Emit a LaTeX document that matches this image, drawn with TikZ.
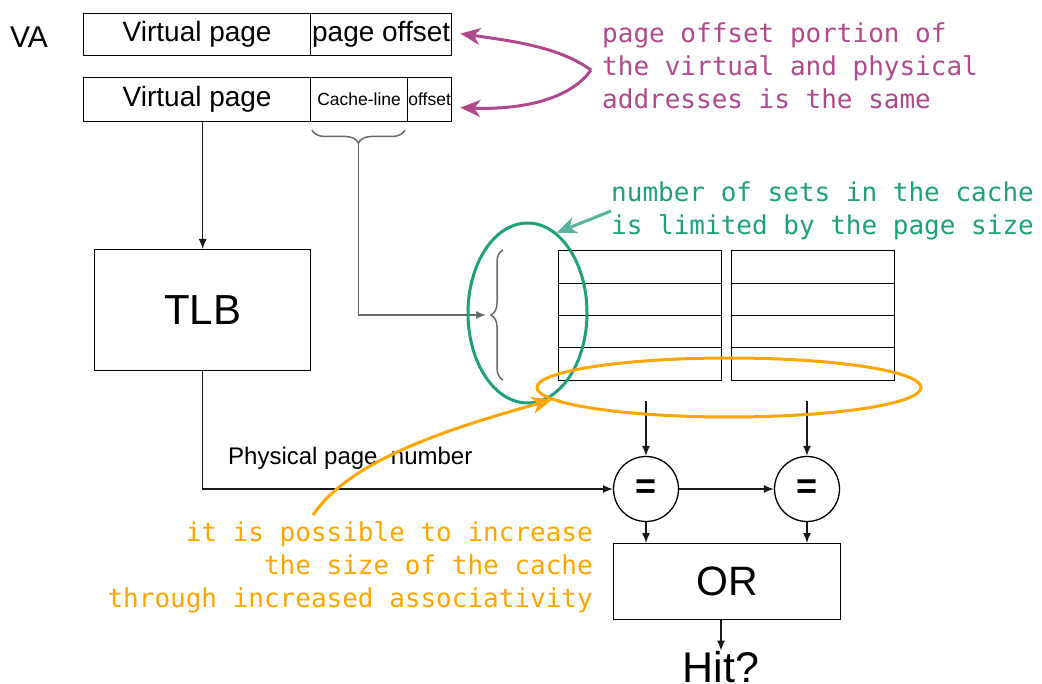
\documentclass[tikz,border=0pt]{standalone}
\usepackage{fontspec}
\setmainfont{Liberation Sans}
\newfontfamily\monofont{DejaVu Sans Mono}
\usetikzlibrary{arrows.meta,decorations.pathreplacing,calc,shapes.geometric}

\definecolor{notepurple}{RGB}{176,72,140}
\definecolor{notegreen}{RGB}{30,160,125}
\definecolor{noteteal}{RGB}{90,180,160}
\definecolor{noteorange}{RGB}{255,165,0}
\definecolor{bracegray}{RGB}{105,105,105}

\begin{document}
\begin{tikzpicture}[x=1pt,y=-1pt,
  field/.style={draw, line width=1.3pt, inner sep=0pt, anchor=north west,
    minimum height=42pt, font=\fontsize{28}{30}\selectfont},
  smallfield/.style={field, font=\fontsize{17.5}{18}\selectfont},
  block/.style={draw, line width=1.3pt, inner sep=0pt, anchor=north west},
  setrow/.style={block, minimum width=163pt},
  cmp/.style={draw, circle, line width=1.3pt, minimum size=65pt, inner sep=0pt,
    font=\fontsize{36}{36}\selectfont\bfseries},
  wire/.style={line width=1.4pt, draw=black!90},
  flow/.style={wire, -{Latex[length=10pt,width=8pt]}},
  curly/.style={draw=bracegray, line width=1.5pt, decorate},
  note/.style={inner sep=0pt, font=\fontsize{26}{33}\selectfont\monofont},
  hand/.style={line width=3pt, -{Stealth[length=20pt,width=17pt,inset=6pt]}},
  ring/.style={draw, ellipse, line width=3pt, inner sep=0pt},
]
\useasboundingbox (0,0) rectangle (1042,684);

% address fields
\node[anchor=base west, inner sep=0pt, font=\fontsize{30}{30}\selectfont] (va) at (10,48) {VA};
\node[field, minimum width=227pt] (vp1) at (83,13) {Virtual page};
\node[field, minimum width=141pt] (po) at (310,13) {page offset};
\node[field, minimum width=227pt, minimum height=44pt] (vp2) at (83,77) {Virtual page};
\node[smallfield, minimum width=97pt, minimum height=44pt] (cl) at (310,77) {Cache-line};
\node[smallfield, minimum width=44pt, minimum height=44pt] (off) at (407,77) {offset};

% index brace under the cache-line field
\draw[curly, decoration={brace, amplitude=13pt, mirror}] (312,130) -- (405,130);
\coordinate (idx) at (358.5,143);

% TLB
\node[block, minimum width=216pt, minimum height=121pt, font=\fontsize{42}{42}\selectfont] (tlb) at (94,249) {TLB};
\draw[flow] (tlb.north |- vp2.south) -- (tlb.north);

% cache ways: four sets in each of two ways
\foreach \r/\y/\h in {1/250/33, 2/283/32, 3/315/32, 4/347/33} {
  \node[setrow, minimum height=\h pt] (a\r) at (558,\y) {};
  \node[setrow, minimum height=\h pt] (b\r) at (731,\y) {};
}
\draw[curly, decoration={brace, amplitude=12pt}] (503,380) -- (503,250);
\coordinate (sel) at (486,315);
\draw[wire, draw=bracegray, -{Latex[length=10pt,width=8pt]}] (idx) |- (sel);

% comparators and OR
\node[cmp] (eq1) at (646,489) {=};
\node[cmp] (eq2) at (807,489) {=};
\coordinate (tag1) at (646,401);
\coordinate (tag2) at (807,401);
\draw[flow] (tag1) -- (eq1);
\draw[flow] (tag2) -- (eq2);
\draw[flow] (eq1) -- (eq2);
\draw[flow] (tlb.south) |- (eq1.west);
\node[anchor=base west, inner sep=0pt, font=\fontsize{24}{24}\selectfont] (ppn) at (228,465) {Physical page\ \ number};

\node[block, minimum width=227pt, minimum height=76pt, font=\fontsize{41}{41}\selectfont] (or) at (613,543) {OR};
\draw[flow] (eq1.south) -- (eq1.south |- or.north);
\draw[flow] (eq2.south) -- (eq2.south |- or.north);
\node[anchor=base, inner sep=0pt, font=\fontsize{43}{43}\selectfont] (hit) at (721,682) {Hit?};
\draw[flow] (hit.north |- or.south) -- (hit.north);

% annotations (multi-line nodes are placed by the baseline of their last line)
\node[note, text=notepurple, anchor=base west, align=left] (pnote) at (602,109)
  {page offset portion of\\the virtual and physical\\addresses is the same};
\coordinate (pfork) at (591,70);
\draw[hand, notepurple] (pfork) .. controls (560,48) and (520,42) .. ($(po.east)+(8,-1)$);
\draw[hand, notepurple] (pfork) .. controls (570,100) and (520,110) .. ($(off.east)+(8,8)$);

\node[ring, draw=notegreen, minimum width=119pt, minimum height=180pt] (setring) at (527.5,313) {};
\node[note, text=notegreen, anchor=base west, align=left] (gnote) at (611,235)
  {number of sets in the cache\\is limited by the page size};
\coordinate (gtail) at (611,211);
\draw[hand, noteteal] (gtail) -- (setring.70);

\node[ring, draw=noteorange, minimum width=384pt, minimum height=59pt] (wayring) at (729,387.5) {};
\node[note, text=noteorange, anchor=base east, align=right] (onote) at (593,607)
  {it is possible to increase\\the size of the cache\\through increased associativity};
\coordinate (otail) at (313,515);
\draw[hand, noteorange] (otail) .. controls (350,460) and (450,428) .. (wayring.184);
\end{tikzpicture}
\end{document}
